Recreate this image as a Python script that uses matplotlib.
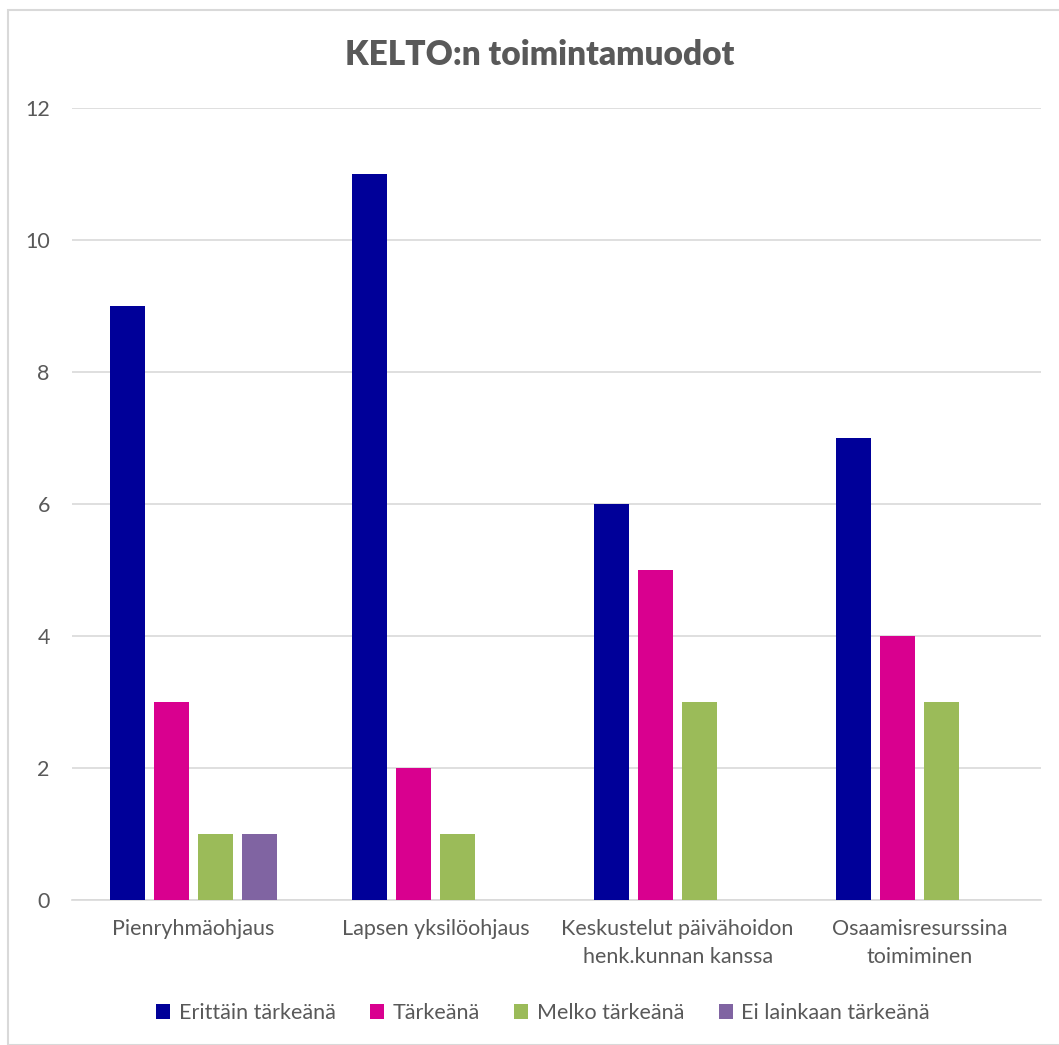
import matplotlib
matplotlib.use("Agg")
import matplotlib.pyplot as plt
import numpy as np
from matplotlib.patches import Rectangle

plt.rcParams['font.family'] = ['Lato', 'DejaVu Sans']

title = "KELTO:n toimintamuodot"
categories = ["Pienryhmäohjaus", "Lapsen yksilöohjaus",
              "Keskustelut päivähoidon\nhenk.kunnan kanssa", "Osaamisresurssina\ntoimiminen"]
series_names = ["Erittäin tärkeänä", "Tärkeänä", "Melko tärkeänä", "Ei lainkaan tärkeänä"]
erittain = [9, 11, 6, 7]
tarkea = [3, 2, 5, 4]
melko = [1, 1, 3, 3]
ei_lainkaan = [1, 0, 0, 0]
series_values = [erittain, tarkea, melko, ei_lainkaan]
colors = ["#000099", "#D9008F", "#9BBB59", "#8064A2"]
yticks = [0, 2, 4, 6, 8, 10, 12]

W, H = 1059, 1045
fig = plt.figure(figsize=(W/100, H/100), dpi=100)
fig.patches.append(Rectangle((8/W, 0), 1.2, 1 - 10/H, transform=fig.transFigure,
                             fill=False, edgecolor="#D9D9D9", linewidth=1.5))

left, right, top, bottom = 72, 1041, 108, 900
ax = fig.add_axes([left/W, 1 - bottom/H, (right-left)/W, (bottom-top)/H])

x = np.arange(len(categories))
pitch = 44/242.25
bw = 35/242.25
for i, (name, vals, c) in enumerate(zip(series_names, series_values, colors)):
    ax.bar(x + (i - 1.5)*pitch, vals, width=bw, color=c, label=name, zorder=3)

ax.set_xlim(-0.5, len(categories) - 0.5)
ax.set_ylim(0, 12)
ax.set_yticks(yticks)
ax.set_yticklabels([str(t) for t in yticks])
ax.set_xticks(x)
ax.set_xticklabels(categories, linespacing=1.45)
ax.grid(axis='y', color="#D9D9D9", linewidth=1.2, zorder=0)
for s in ['top', 'right', 'left']:
    ax.spines[s].set_visible(False)
ax.spines['bottom'].set_color("#D9D9D9")
ax.spines['bottom'].set_linewidth(1.2)
ax.tick_params(axis='both', length=0, labelsize=15.5, labelcolor="#595959")
ax.tick_params(axis='y', pad=16)
ax.tick_params(axis='x', pad=14)

fig.text(0.5 + 10/W, 1 - 55/H, title, ha='center', va='center', fontsize=24,
         fontweight='heavy', color="#595959")

leg = fig.legend(loc='center', bbox_to_anchor=(543/W, 1 - 1013/H), ncol=4, frameon=False,
                 fontsize=15.5, labelcolor="#595959", handlelength=0.65, handleheight=0.65,
                 handletextpad=0.4, columnspacing=1.6)

fig.savefig("out.png", dpi=100)
